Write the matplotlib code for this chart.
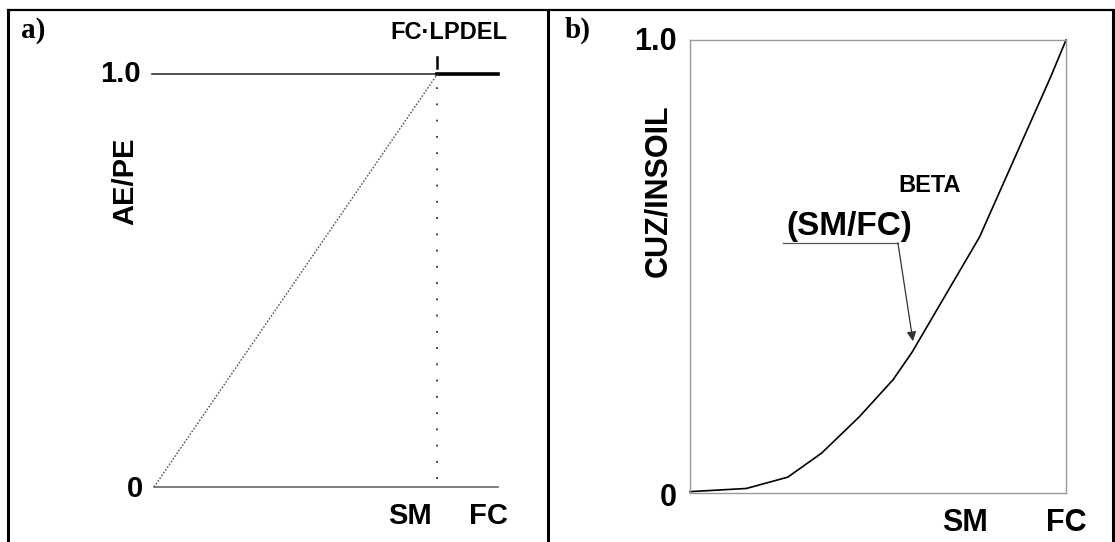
import matplotlib
matplotlib.use("Agg")
import matplotlib.pyplot as plt
from matplotlib.lines import Line2D

# panel a: AE/PE vs soil moisture (SM reached at FC*LPDEL)
lp_x = [0.0, 0.824, 1.0]
lp_y = [0.0, 1.0, 1.0]

# panel b: CUZ/INSOIL = (SM/FC)^BETA
sm_fc = [0.0, 0.15, 0.26, 0.35, 0.45, 0.54, 0.59, 0.77, 0.96, 1.0]
cuz = [0.003, 0.01, 0.035, 0.088, 0.168, 0.25, 0.31, 0.565, 0.92, 1.0]

W, H = 1115, 542
fig = plt.figure(figsize=(W / 100, H / 100), dpi=100)

def fx(px):
    return px / W

def fy(py):
    return 1 - py / H

bold = dict(family="Liberation Sans", fontweight="bold", color="black")
serif = dict(family="Liberation Serif", fontweight="bold", fontsize=21)

# table-like frame
for xs, ys, lw in [([8, 1113], [10, 10], 1.6),
                   ([8, 8], [10, 545], 2.2),
                   ([548, 548], [10, 545], 2.2),
                   ([1113, 1113], [10, 545], 2.2)]:
    fig.add_artist(Line2D([fx(x) for x in xs], [fy(y) for y in ys],
                          color="black", lw=lw, transform=fig.transFigure))

fig.text(fx(33), fy(30), "a)", ha="center", va="center", **serif)
fig.text(fx(578), fy(30), "b)", ha="center", va="center", **serif)

# ---- panel a ----
ax1 = fig.add_axes([fx(154), fy(487), 344 / W, 413 / H])
ax1.set_xlim(0, 1)
ax1.set_ylim(0, 1)
ax1.axis("off")
sm = lp_x[1]
ax1.plot([-0.006, sm], [1, 1], color="#333333", lw=1.2, clip_on=False)
ax1.plot(lp_x[1:], lp_y[1:], color="black", lw=2.6, clip_on=False)
ax1.plot(lp_x[:2], lp_y[:2], color="#555555", lw=1.0, ls=(0, (1.2, 1.2)), clip_on=False)
ax1.plot([0, 1], [0, 0], color="#666666", lw=1.2, clip_on=False)
ax1.plot([sm, sm], [0.02, 1], color="#333333", lw=1.3, ls=(0, (1, 8)), clip_on=False)
ax1.plot([sm, sm], [1.015, 1.04], color="black", lw=1.8, clip_on=False)
ax1.text(-0.038, 1.0, "1.0", ha="right", va="center", fontsize=21, **bold)
ax1.text(-0.032, -0.005, "0", ha="right", va="center", fontsize=21, **bold)
ax1.text(-0.084, 0.741, "AE/PE", ha="center", va="center", rotation=90, fontsize=21, **bold)
ax1.text(0.856, 1.10, "FC\u00b7LPDEL", ha="center", va="center", fontsize=17, **bold)
ax1.text(0.744, -0.07, "SM", ha="center", va="center", fontsize=21, **bold)
ax1.text(0.971, -0.07, "FC", ha="center", va="center", fontsize=21, **bold)

# ---- panel b ----
ax2 = fig.add_axes([fx(690), fy(493), 376 / W, 453 / H])
ax2.set_xlim(0, 1)
ax2.set_ylim(0, 1)
ax2.set_xticks([])
ax2.set_yticks([])
for s in ax2.spines.values():
    s.set_color("#9a9a9a")
    s.set_linewidth(1.0)
ax2.plot(sm_fc, cuz, color="black", lw=1.2, clip_on=False)
ax2.text(-0.035, 0.996, "1.0", ha="right", va="center", fontsize=22, **bold)
ax2.text(-0.035, -0.011, "0", ha="right", va="center", fontsize=22, **bold)
ax2.text(-0.085, 0.667, "CUZ/INSOIL", ha="center", va="center", rotation=90, fontsize=22, **bold)
ax2.text(0.731, -0.066, "SM", ha="center", va="center", fontsize=22, **bold)
ax2.text(1.0, -0.066, "FC", ha="center", va="center", fontsize=22, **bold)
ax2.text(0.423, 0.589, "(SM/FC)", ha="center", va="center", fontsize=24, **bold)
ax2.text(0.638, 0.678, "BETA", ha="center", va="center", fontsize=17, **bold)
ax2.plot([0.247, 0.553], [0.552, 0.552], color="#555555", lw=0.9)
ax2.annotate("", xy=(0.593, 0.335), xytext=(0.553, 0.552),
             arrowprops=dict(arrowstyle="-|>", color="#333333", lw=0.9,
                             mutation_scale=14, shrinkA=0, shrinkB=0))

fig.savefig("out.png", dpi=100)
